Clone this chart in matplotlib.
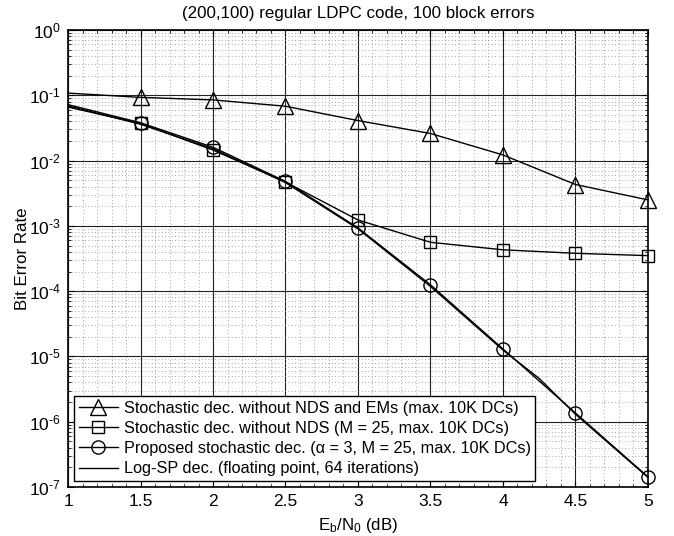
import numpy as np
import matplotlib
matplotlib.use("Agg")
from matplotlib import pyplot as plt
from matplotlib.ticker import MultipleLocator, FixedLocator, NullFormatter, FuncFormatter

plt.rcParams['font.family'] = ['Liberation Sans', 'DejaVu Sans']
plt.rcParams['mathtext.fontset'] = 'custom'
plt.rcParams['mathtext.rm'] = 'Liberation Sans'
plt.rcParams['mathtext.it'] = 'Liberation Sans:italic'
plt.rcParams['font.size'] = 12

# data
snr = [1.5, 2.0, 2.5, 3.0, 3.5, 4.0, 4.5, 5.0]

tri_x = [1.0] + snr
tri_y = [0.108, 0.093, 0.085, 0.068, 0.041, 0.026, 0.0122, 0.0043, 0.0025]

sq_x = [1.0] + snr
sq_y = [0.066, 0.037, 0.0145, 0.0047, 0.00123, 0.00056, 0.00043, 0.00038, 0.00035]

circ_x = [1.0] + snr
circ_y = [0.072, 0.038, 0.016, 0.0048, 0.00093, 1.25e-4, 1.3e-5, 1.36e-6, 1.43e-7]

lsp_x = [1.0, 1.5, 2.0, 2.5, 3.0, 3.5, 4.0, 4.25, 4.5, 5.0]
lsp_y = [0.069, 0.036, 0.0152, 0.0046, 0.00090, 1.18e-4, 1.25e-5, 4.6e-6, 1.3e-6, 1.4e-7]

y_exps = [-7, -6, -5, -4, -3, -2, -1, 0]

labels = [
    "Stochastic dec. without NDS and EMs (max. 10K DCs)",
    "Stochastic dec. without NDS (M = 25, max. 10K DCs)",
    "Proposed stochastic dec. (α = 3, M = 25, max. 10K DCs)",
    "Log-SP dec. (floating point, 64 iterations)",
]


def pow10(v, pos):
    e = int(round(np.log10(v)))
    if e < 0:
        return r"$\mathregular{10^{\text{-}%d}}$" % (-e)
    return r"$\mathregular{10^{%d}}$" % e


fig = plt.figure(figsize=(6.74, 5.36), dpi=100)
ax = fig.add_axes([0.1009, 0.0914, 0.8605, 0.8526])

lw = 1.0
ax.semilogy(tri_x, tri_y, 'k-', marker='^', ms=12, mfc='none', mew=1.0, lw=lw,
            markevery=list(range(1, len(tri_x))), clip_on=False, label=labels[0], zorder=5)
ax.semilogy(sq_x, sq_y, 'k-', marker='s', ms=8.5, mfc='none', mew=1.0, lw=lw,
            markevery=list(range(1, len(sq_x))), clip_on=False, label=labels[1], zorder=5)
ax.semilogy(circ_x, circ_y, 'k-', marker='o', ms=9.5, mfc='none', mew=1.0, lw=lw,
            markevery=list(range(1, len(circ_x))), clip_on=False, label=labels[2], zorder=5)
ax.semilogy(lsp_x, lsp_y, 'k-', lw=lw, label=labels[3], zorder=5)

ax.set_xlim(1, 5)
ax.set_ylim(1e-7, 1)
ax.xaxis.set_major_locator(MultipleLocator(0.5))
ax.xaxis.set_minor_locator(MultipleLocator(0.1))
ax.xaxis.set_major_formatter(FuncFormatter(lambda v, p: f"{v:g}"))
major_y = [10.0 ** e for e in y_exps]
minor_y = [m * 10.0 ** e for e in y_exps[:-1] for m in range(2, 10)]
ax.yaxis.set_major_locator(FixedLocator(major_y))
ax.yaxis.set_major_formatter(FuncFormatter(pow10))
ax.yaxis.set_minor_locator(FixedLocator(minor_y))
ax.yaxis.set_minor_formatter(NullFormatter())

ax.grid(True, which='major', color='#222222', linestyle='-', linewidth=0.8)
ax.grid(True, which='minor', color='#888888', linestyle=(0, (1, 3)), linewidth=0.6)
ax.tick_params(which='both', direction='in', top=True, right=True, labelsize=12.5)
ax.tick_params(which='major', length=4, width=0.8, pad=5)
ax.tick_params(which='minor', length=2, width=0.6)
for s in ax.spines.values():
    s.set_linewidth(1.2)

ax.set_title("(200,100) regular LDPC code, 100 block errors", fontsize=12.2, pad=9)
ax.set_xlabel(r"E$_\mathrm{b}$/N$_\mathrm{0}$ (dB)", fontsize=12.2, labelpad=5)
ax.set_ylabel("Bit Error Rate", fontsize=12.2, labelpad=-1)

leg = ax.legend(loc='lower left', bbox_to_anchor=(0.0103, 0.013), borderaxespad=0,
                fancybox=False, edgecolor='black', framealpha=1, fontsize=11.7,
                handlelength=2.4, handletextpad=0.35, labelspacing=0.32, borderpad=0.3)
leg.get_frame().set_linewidth(1.0)
leg.set_zorder(10)

fig.savefig("out.png", dpi=100)
